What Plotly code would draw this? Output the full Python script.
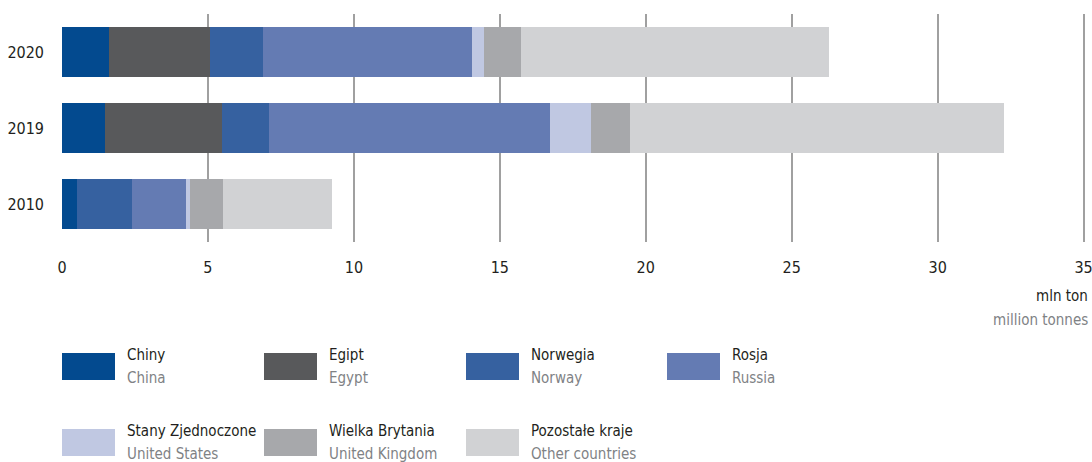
import plotly.graph_objects as go

years = ["2010", "2019", "2020"]
series_pl = ["Chiny", "Egipt", "Norwegia", "Rosja", "Stany Zjednoczone", "Wielka Brytania", "Pozostałe kraje"]
series_en = ["China", "Egypt", "Norway", "Russia", "United States", "United Kingdom", "Other countries"]
colors = ["#034a8f", "#58595b", "#3661a0", "#647bb3", "#c0c8e2", "#a7a8ab", "#d1d2d4"]
values = {
    "Chiny":             [0.53, 1.48, 1.62],
    "Egipt":             [0.00, 4.01, 3.46],
    "Norwegia":          [1.87, 1.61, 1.82],
    "Rosja":             [1.85, 9.62, 7.15],
    "Stany Zjednoczone": [0.15, 1.40, 0.41],
    "Wielka Brytania":   [1.13, 1.34, 1.26],
    "Pozostałe kraje":   [3.73, 12.82, 10.55],
}
x_ticks = [0, 5, 10, 15, 20, 25, 30, 35]
unit_pl = "mln ton"
unit_en = "million tonnes"

FONT = "Liberation Sans Narrow, DejaVu Sans Condensed, Arial Narrow, sans-serif"
W, H = 1092, 462
L, R, T, B = 62, 4, 14, 220
PW, PH = W - L - R, H - T - B

def px(x):
    return (x - L) / PW

def py(y):
    return (H - B - y) / PH

fig = go.Figure()
for name, col in zip(series_pl, colors):
    fig.add_trace(go.Bar(
        y=years, x=values[name], name=name, orientation="h",
        marker=dict(color=col, line=dict(width=0)), showlegend=False,
    ))

shapes = []
annotations = []
col_x = [62, 264, 466, 667]
rows = [(353, 380), (429, 456)]
for i, (pl, en, col) in enumerate(zip(series_pl, series_en, colors)):
    r, c = divmod(i, 4)
    x0 = col_x[c]
    y0, y1 = rows[r]
    shapes.append(dict(type="rect", xref="paper", yref="paper",
                       x0=px(x0), x1=px(x0 + 53), y0=py(y1), y1=py(y0),
                       fillcolor=col, line=dict(width=0), layer="above"))
    annotations.append(dict(xref="paper", yref="paper", x=px(x0 + 63), y=py(y0 + 2),
                            text=pl, showarrow=False, xanchor="left", yanchor="middle",
                            font=dict(family=FONT, size=15, color="#231f20")))
    annotations.append(dict(xref="paper", yref="paper", x=px(x0 + 63), y=py(y0 + 25),
                            text=en, showarrow=False, xanchor="left", yanchor="middle",
                            font=dict(family=FONT, size=15, color="#808285")))

annotations.append(dict(xref="paper", yref="paper", x=px(1090), y=py(296),
                        text=unit_pl, showarrow=False, xanchor="right", yanchor="middle",
                        font=dict(family=FONT, size=15, color="#231f20")))
annotations.append(dict(xref="paper", yref="paper", x=px(1090), y=py(320),
                        text=unit_en, showarrow=False, xanchor="right", yanchor="middle",
                        font=dict(family=FONT, size=15, color="#808285")))

fig.update_layout(
    barmode="stack",
    bargap=0.33,
    width=W, height=H,
    margin=dict(l=L, r=R, t=T, b=B, pad=0, autoexpand=False),
    paper_bgcolor="white", plot_bgcolor="white",
    shapes=shapes, annotations=annotations,
    font=dict(family=FONT, size=16, color="#231f20"),
)
fig.update_xaxes(
    range=[0, 35.15], tickvals=x_ticks, ticktext=[str(v) for v in x_ticks],
    showgrid=True, gridcolor="#a0a0a0", gridwidth=1.5, zeroline=False,
    showline=False, ticks="", ticklabelstandoff=14, ticklabeloverflow="allow",
    automargin=False,
    tickfont=dict(family=FONT, size=16, color="#231f20"),
)
fig.update_yaxes(
    type="category", categoryorder="array", categoryarray=years,
    range=[-0.5, 2.5], showgrid=False, zeroline=False, showline=False,
    ticks="", ticklabelstandoff=17, automargin=False,
    tickfont=dict(family=FONT, size=16, color="#231f20"),
)

fig.write_html("out.html", config={"displayModeBar": False},
               post_script="document.body.style.margin='0px';document.body.style.overflow='hidden';")
